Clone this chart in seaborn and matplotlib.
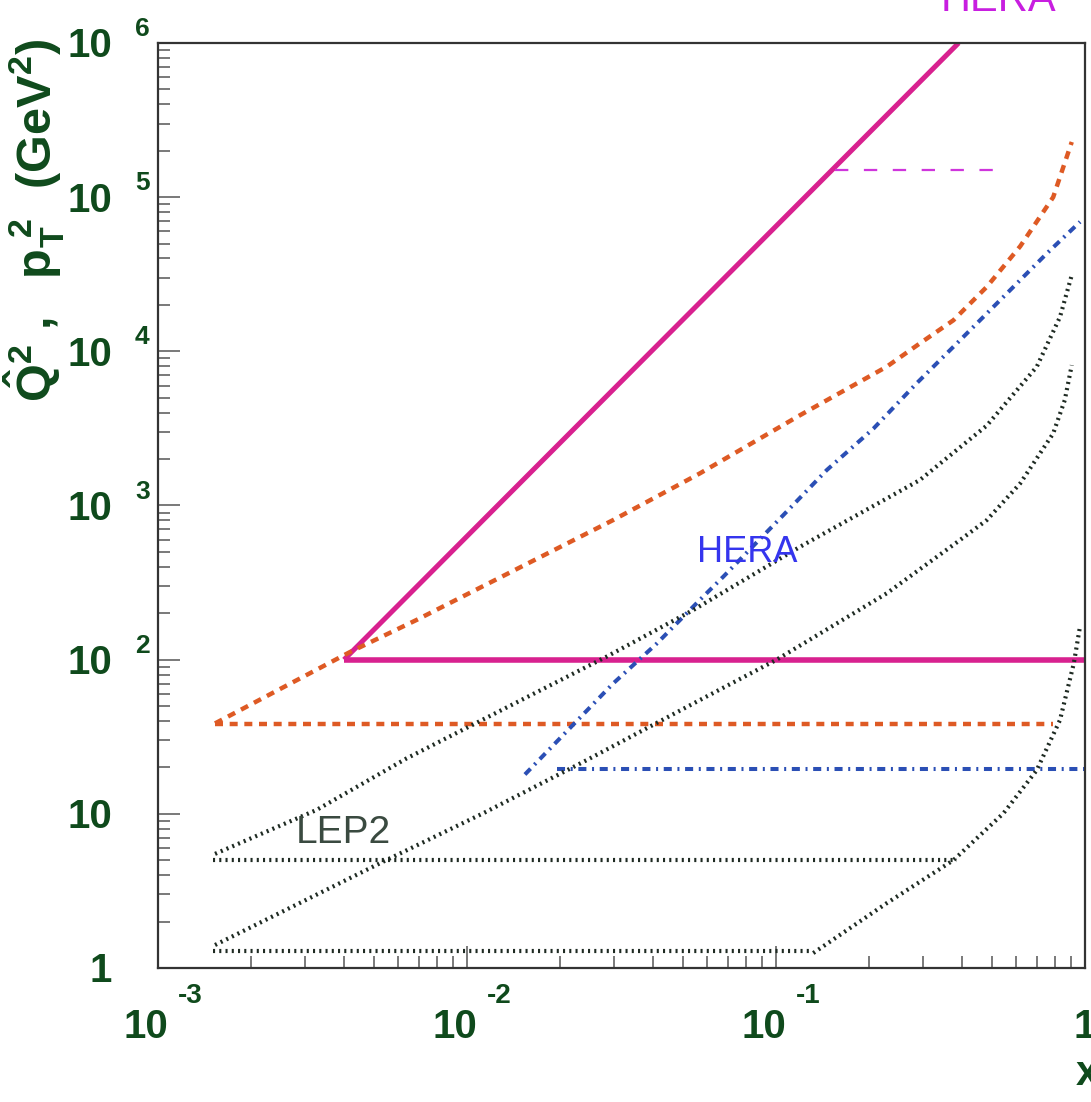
import numpy as np
import matplotlib
matplotlib.use("Agg")
import matplotlib.pyplot as plt
from matplotlib.ticker import LogLocator, NullFormatter
import seaborn as sns

# ---------------- data ----------------
# magenta solid (HERA kinematic limit)
mag_diag_x = [0.004, 0.39]
mag_diag_y = [100, 1.0e6]
mag_horiz_x = [0.004, 1.0]
mag_horiz_y = [100, 100]
# magenta hand-drawn dashed
mag_dash_x = [0.155, 0.52]
mag_dash_y = [1.5e5, 1.5e5]

# orange dashed
orange_curve_x = [0.00153, 0.00418, 0.00687, 0.0297, 0.0567, 0.1197,
                  0.228, 0.292, 0.375, 0.481, 0.617, 0.789, 0.906]
orange_curve_y = [38.6, 112, 181, 804, 1615, 3855,
                  7940, 11250, 15900, 26200, 48000, 100000, 228000]
orange_horiz_x = [0.00153, 0.79]
orange_horiz_y = [38.5, 38.5]

# blue dash-dot
blue_curve_x = [0.0154, 0.0297, 0.0411, 0.0567, 0.0675, 0.1056, 0.146,
                0.207, 0.285, 0.394, 0.545, 0.752, 0.964]
blue_curve_y = [18, 70, 127, 244, 345, 866, 1698,
                3162, 6194, 11800, 22600, 43100, 69200]
blue_horiz_x = [0.0195, 1.0]
blue_horiz_y = [19.5, 19.5]

# black dotted (LEP2)
lepA_curve_x = [0.00153, 0.00326, 0.00638, 0.0283, 0.054, 0.1197,
                0.292, 0.481, 0.698, 0.830, 0.906]
lepA_curve_y = [5.5, 10.6, 22.9, 104.6, 210, 540,
                1462, 3300, 7940, 16700, 31200]
lepA_horiz_x = [0.00151, 0.385]
lepA_horiz_y = [5.0, 5.0]

lepB_curve_x = [0.00153, 0.00536, 0.0113, 0.0244, 0.0567, 0.1, 0.228, 0.394,
                0.481, 0.617, 0.789, 0.86, 0.906]
lepB_curve_y = [1.41, 4.9, 10.1, 22.3, 54.7, 99.4, 269, 597,
                804, 1391, 2933, 4823, 8135]

lepC_curve_x = [0.132, 0.228, 0.375, 0.545, 0.698, 0.830, 0.92, 0.964]
lepC_curve_y = [1.25, 2.63, 5.0, 10.1, 19.2, 40.6, 94.6, 165]
lepBC_horiz_x = [0.00151, 0.132]
lepBC_horiz_y = [1.28, 1.28]

# tick labels
y_tick_vals = [1, 10, 1e2, 1e3, 1e4, 1e5, 1e6]
y_tick_base = ["1", "10", "10", "10", "10", "10", "10"]
y_tick_exp = ["", "", "2", "3", "4", "5", "6"]
x_tick_vals = [1e-3, 1e-2, 1e-1, 1.0]
x_tick_base = ["10", "10", "10", "1"]
x_tick_exp = ["-3", "-2", "-1", ""]

# ---------------- style ----------------
sns.set_style("white")
plt.rcParams["font.family"] = ["Liberation Sans", "DejaVu Sans"]
plt.rcParams["mathtext.fontset"] = "custom"
plt.rcParams["mathtext.rm"] = "Liberation Sans:bold"
plt.rcParams["mathtext.bf"] = "Liberation Sans:bold"
plt.rcParams["mathtext.it"] = "Liberation Sans:italic:bold"

GREEN = "#0f4a1c"
MAGENTA = "#d8218f"
ORANGE = "#de5a24"
BLUE = "#2b4fb5"
BLACK = "#1e2a22"

fig = plt.figure(figsize=(10.91, 11.02), dpi=100)
ax = fig.add_axes([0.1448, 0.1216, 0.8497, 0.8394])
ax.set_xscale("log")
ax.set_yscale("log")


def line(x, y, **kw):
    sns.lineplot(x=x, y=y, ax=ax, estimator=None, sort=False, legend=False, **kw)


# magenta
line(mag_diag_x, mag_diag_y, color=MAGENTA, linewidth=3.6, solid_capstyle="butt")
line(mag_horiz_x, mag_horiz_y, color=MAGENTA, linewidth=4.0, solid_capstyle="butt")
line(mag_dash_x, mag_dash_y, color="#cf35dc", linewidth=1.6, linestyle=(0, (6, 7)))

# orange dashed
line(orange_curve_x, orange_curve_y, color=ORANGE, linewidth=3.2, linestyle=(0, (1.8, 1.5)))
line(orange_horiz_x, orange_horiz_y, color=ORANGE, linewidth=3.2, linestyle=(0, (1.8, 1.5)))

# blue dash-dot
bd = (0, (2.0, 1.4, 0.5, 1.4))
line(blue_curve_x, blue_curve_y, color=BLUE, linewidth=2.9, linestyle=bd)
line(blue_horiz_x, blue_horiz_y, color=BLUE, linewidth=2.9, linestyle=bd)

# black dotted
dot = (0, (0.5, 1.0))
for xs, ys in [(lepA_curve_x, lepA_curve_y), (lepA_horiz_x, lepA_horiz_y),
               (lepB_curve_x, lepB_curve_y), (lepC_curve_x, lepC_curve_y),
               (lepBC_horiz_x, lepBC_horiz_y)]:
    line(xs, ys, color=BLACK, linewidth=3.0, linestyle=dot)

ax.set_xlim(1e-3, 1.0)
ax.set_ylim(1.0, 1.0e6)
ax.set_xlabel("")
ax.set_ylabel("")

# ticks
ax.xaxis.set_major_locator(LogLocator(base=10, numticks=20))
ax.yaxis.set_major_locator(LogLocator(base=10, numticks=20))
ax.xaxis.set_minor_locator(LogLocator(base=10, subs=np.arange(2, 10), numticks=100))
ax.yaxis.set_minor_locator(LogLocator(base=10, subs=np.arange(2, 10), numticks=100))
ax.xaxis.set_minor_formatter(NullFormatter())
ax.yaxis.set_minor_formatter(NullFormatter())
ax.tick_params(which="both", direction="in", left=True, bottom=True, top=False, right=False,
               labelleft=False, labelbottom=False, color="#555555", width=1.1)
ax.tick_params(which="major", length=15.8)
ax.tick_params(which="minor", length=8.5)
for s in ax.spines.values():
    s.set_color("#333333")
    s.set_linewidth(1.6)
    s.set_visible(True)

# custom tick labels (ROOT style: big "10" with detached exponent)
for v, b, e in zip(y_tick_vals, y_tick_base, y_tick_exp):
    ax.annotate(b, xy=(0, v), xycoords=("axes fraction", "data"), xytext=(-33, -10.4),
                textcoords="offset points", ha="right", va="baseline",
                fontsize=29, fontweight="bold", color=GREEN, annotation_clip=False)
    if e:
        ax.annotate(e, xy=(0, v), xycoords=("axes fraction", "data"), xytext=(-16.6, 5.0),
                    textcoords="offset points", ha="left", va="baseline",
                    fontsize=19, fontweight="bold", color=GREEN, annotation_clip=False)

for v, b, e in zip(x_tick_vals, x_tick_base, x_tick_exp):
    if e:
        ax.annotate(b, xy=(v, 0), xycoords=("data", "axes fraction"), xytext=(7.2, -50.4),
                    textcoords="offset points", ha="right", va="baseline",
                    fontsize=29, fontweight="bold", color=GREEN, annotation_clip=False)
        ax.annotate(e, xy=(v, 0), xycoords=("data", "axes fraction"), xytext=(14, -25.2),
                    textcoords="offset points", ha="left", va="baseline",
                    fontsize=20, fontweight="bold", color=GREEN, annotation_clip=False)
    else:
        ax.annotate(b, xy=(v, 0), xycoords=("data", "axes fraction"), xytext=(0, -50.4),
                    textcoords="offset points", ha="center", va="baseline",
                    fontsize=29, fontweight="bold", color=GREEN, annotation_clip=False)

# axis titles
fig.text(0.032, 0.80, r"$\mathbf{\hat{Q}^2\ ,\ \ p_T^{\ 2}\ \ (GeV^2)}$", rotation=90,
         ha="center", va="center", fontsize=35, color=GREEN)
fig.text(0.985, 0.0154, r"$\mathbf{x}_{\gamma}$", ha="left", va="baseline",
         fontsize=30, color=GREEN)

# hand-written annotations
fig.text(0.862, 0.9819, "HERA", ha="left", va="bottom", fontsize=30, color="#c81ee0")
ax.text(0.0555, 430, "HERA", ha="left", va="baseline", fontsize=26, color="#3535ee")
ax.text(0.0028, 6.47, "LEP2", ha="left", va="baseline", fontsize=28, color="#3a4a40")

fig.savefig("out.png", dpi=100)
